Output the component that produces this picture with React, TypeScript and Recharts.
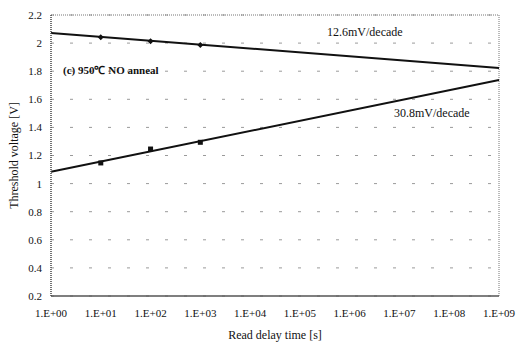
import React from "react";
import {
  ComposedChart,
  Line,
  Scatter,
  XAxis,
  YAxis,
  CartesianGrid,
  ReferenceLine,
} from "recharts";

// x values are log10 of the read delay time
const fitX = [0, 9];
const upperFit = [2.072, 1.823];
const lowerFit = [1.085, 1.737];

const measX = [1, 2, 3];
const upperMeas = [2.041, 2.013, 1.986];
const lowerMeas = [1.147, 1.246, 1.294];

const xTicks = [0, 1, 2, 3, 4, 5, 6, 7, 8, 9];
const yTicks = [0.2, 0.4, 0.6, 0.8, 1, 1.2, 1.4, 1.6, 1.8, 2, 2.2];

const toPts = (xs: number[], ys: number[]) => xs.map((x, i) => ({ x, y: ys[i] }));

const upperFitData = toPts(fitX, upperFit);
const lowerFitData = toPts(fitX, lowerFit);
const upperMeasData = toPts(measX, upperMeas);
const lowerMeasData = toPts(measX, lowerMeas);

const font = "Liberation Serif, Times New Roman, serif";

const Diamond = (p: any) => (
  <path d={`M${p.cx},${p.cy - 3} L${p.cx + 3},${p.cy} L${p.cx},${p.cy + 3} L${p.cx - 3},${p.cy} Z`} fill="#111" />
);
const Square = (p: any) => <rect x={p.cx - 2.5} y={p.cy - 2.5} width={5} height={5} fill="#111" />;

export default function App() {
  return (
    <div style={{ position: "absolute", left: 0, top: 0, width: 524, height: 345, background: "#fff", fontFamily: font }}>
      <ComposedChart
        width={524}
        height={345}
        margin={{ top: 15, right: 25, bottom: 0, left: 0 }}
        style={{ fontFamily: font }}
      >
        <CartesianGrid vertical={false} stroke="#9a9a9a" strokeDasharray="3 16" />
        <XAxis
          type="number"
          dataKey="x"
          domain={[0, 9]}
          ticks={xTicks}
          tickFormatter={(v: number) => `1.E+0${v}`}
          tickLine={false}
          tickSize={0}
          tickMargin={13}
          height={49}
          axisLine={{ stroke: "#555", strokeWidth: 1.5 }}
          tick={{ fill: "#111", fontSize: 11, fontFamily: font }}
          label={{ value: "Read delay time [s]", position: "insideBottom", offset: 6, fill: "#111", fontSize: 12, fontFamily: font }}
        />
        <YAxis
          type="number"
          dataKey="y"
          domain={[0.2, 2.2]}
          ticks={yTicks}
          tickFormatter={(v: number) => String(Number(v.toFixed(1)))}
          tickLine={false}
          tickSize={0}
          tickMargin={9}
          width={51}
          axisLine={{ stroke: "#444", strokeDasharray: "1 1", strokeWidth: 1.5 }}
          tick={{ fill: "#111", fontSize: 11, fontFamily: font }}
          label={{
            value: "Threshold voltage [V]",
            angle: -90,
            position: "insideLeft",
            offset: 14,
            style: { textAnchor: "middle" },
            fill: "#111",
            fontSize: 12,
            fontFamily: font,
          }}
        />
        <ReferenceLine y={2.2} stroke="#777" strokeDasharray="1 1" />
        <ReferenceLine x={9} stroke="#777" strokeDasharray="1 1" />
        <Line data={upperFitData} dataKey="y" stroke="#111" strokeWidth={2} dot={false} isAnimationActive={false} />
        <Line data={lowerFitData} dataKey="y" stroke="#111" strokeWidth={2} dot={false} isAnimationActive={false} />
        <Scatter data={upperMeasData} dataKey="y" shape={Diamond} isAnimationActive={false} />
        <Scatter data={lowerMeasData} dataKey="y" shape={Square} isAnimationActive={false} />
        <text x={63} y={74} fontSize={11} fontWeight="bold" fill="#111" fontFamily={font}>
          (c) 950℃ NO anneal
        </text>
        <text x={327} y={36} fontSize={12} fill="#111" fontFamily={font}>
          12.6mV/decade
        </text>
        <text x={394} y={117} fontSize={12} fill="#111" fontFamily={font}>
          30.8mV/decade
        </text>
      </ComposedChart>
    </div>
  );
}
